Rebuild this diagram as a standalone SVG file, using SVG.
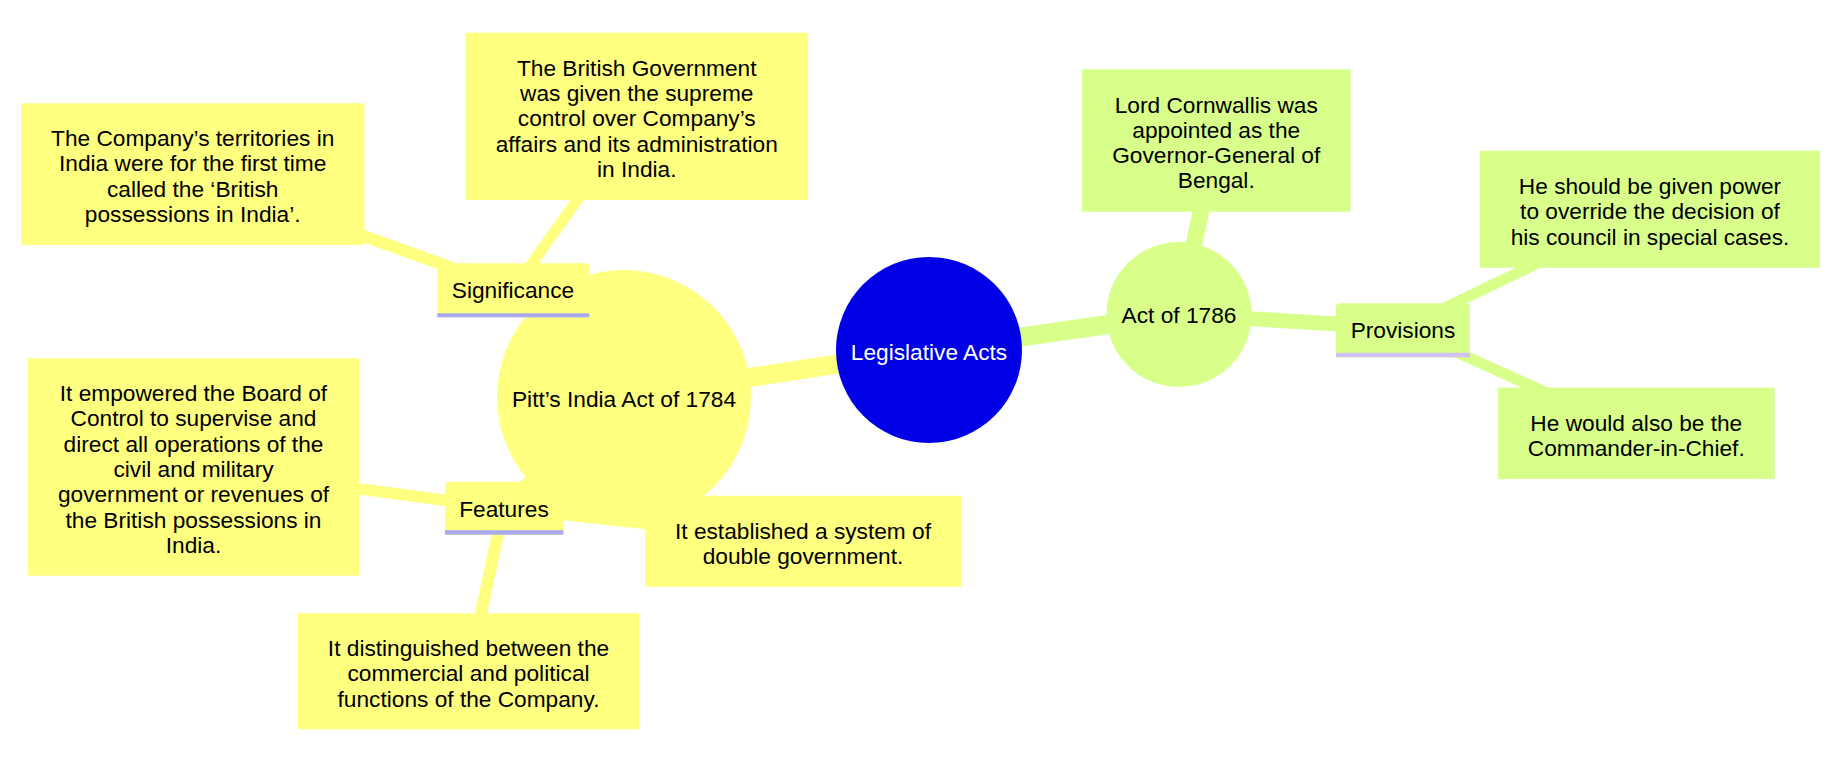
<svg xmlns="http://www.w3.org/2000/svg" width="1837" height="761" viewBox="0 0 1837 761">
<style>
  text { font-family: "Liberation Sans", Arial, sans-serif; font-size: 22.7px; fill: #000; text-anchor: middle; }
  .y { fill: #ffff80; }
  .g { fill: #d8ff8a; }
  .cy { stroke: #ffff80; fill: none; stroke-linecap: butt; }
  .cg { stroke: #d8ff8a; fill: none; stroke-linecap: butt; }
  .ulY { fill: #a9a9f0; }
  .ulG { fill: #d2c2f4; }
  .root text { fill: #ffffff; }
</style>
<rect width="1837" height="761" fill="#ffffff"/>
<g id="connectors">
  <line class="cy" x1="929" y1="350" x2="624" y2="397" stroke-width="19"/>
  <line class="cg" x1="929" y1="350" x2="1179" y2="314.5" stroke-width="19"/>
  <line class="cy" x1="624" y1="397" x2="513" y2="290" stroke-width="16"/>
  <line class="cy" x1="624" y1="397" x2="503.5" y2="508" stroke-width="16"/>
  <line class="cy" x1="513" y1="290" x2="192.7" y2="174" stroke-width="12"/>
  <line class="cy" x1="513" y1="290" x2="636.75" y2="116.5" stroke-width="11"/>
  <line class="cy" x1="503.5" y1="508" x2="193.5" y2="467" stroke-width="11.5"/>
  <line class="cy" x1="503.5" y1="508" x2="803" y2="541.2" stroke-width="11"/>
  <line class="cy" x1="503.5" y1="508" x2="468.5" y2="671.3" stroke-width="12"/>
  <line class="cg" x1="1179" y1="314.5" x2="1216" y2="140.5" stroke-width="16.5"/>
  <line class="cg" x1="1179" y1="314.5" x2="1403" y2="328" stroke-width="15"/>
  <line class="cg" x1="1403" y1="328" x2="1650" y2="209" stroke-width="11"/>
  <line class="cg" x1="1403" y1="328" x2="1636" y2="433" stroke-width="11"/>
</g>
<g id="root" class="root">
  <circle cx="929" cy="350" r="93" fill="#0000e6"/>
  <text x="929" y="360">Legislative Acts</text>
</g>
<g id="pitts">
  <circle class="y" cx="624" cy="397" r="127"/>
  <text x="624" y="407">Pitt’s India Act of 1784</text>
</g>
<g id="act1786">
  <circle class="g" cx="1179" cy="314.5" r="72.5"/>
  <text x="1179" y="323">Act of 1786</text>
</g>
<g id="significance">
  <rect class="y" x="437.3" y="263.3" width="152" height="54" rx="4"/>
  <rect class="ulY" x="437.3" y="313.3" width="152" height="4"/>
  <text x="513" y="298.3">Significance</text>
</g>
<g id="features">
  <rect class="y" x="445" y="481.7" width="118.3" height="53" rx="4"/>
  <rect class="ulY" x="445" y="530.2" width="118.3" height="4.5"/>
  <text x="504" y="516.5">Features</text>
</g>
<g id="provisions">
  <rect class="g" x="1336" y="303.3" width="134" height="54" rx="4"/>
  <rect class="ulG" x="1336" y="352.8" width="134" height="4.5"/>
  <text x="1403" y="338.3">Provisions</text>
</g>
<g id="company-territories">
  <rect class="y" x="21" y="103.3" width="343.5" height="141.7"/>
  <text x="192.7" y="146.05">The Company’s territories in</text>
  <text x="192.7" y="171.35">India were for the first time</text>
  <text x="192.7" y="196.65">called the ‘British</text>
  <text x="192.7" y="221.95">possessions in India’.</text>
</g>
<g id="british-government">
  <rect class="y" x="465.5" y="32.7" width="342.5" height="167.3"/>
  <text x="636.75" y="75.75">The British Government</text>
  <text x="636.75" y="101.05">was given the supreme</text>
  <text x="636.75" y="126.35">control over Company’s</text>
  <text x="636.75" y="151.65">affairs and its administration</text>
  <text x="636.75" y="176.95">in India.</text>
</g>
<g id="board-of-control">
  <rect class="y" x="28" y="358.3" width="331" height="217.4"/>
  <text x="193.5" y="401.1">It empowered the Board of</text>
  <text x="193.5" y="426.4">Control to supervise and</text>
  <text x="193.5" y="451.7">direct all operations of the</text>
  <text x="193.5" y="477">civil and military</text>
  <text x="193.5" y="502.3">government or revenues of</text>
  <text x="193.5" y="527.6">the British possessions in</text>
  <text x="193.5" y="552.9">India.</text>
</g>
<g id="double-government">
  <rect class="y" x="645" y="495.7" width="316" height="91"/>
  <text x="803" y="538.55">It established a system of</text>
  <text x="803" y="563.85">double government.</text>
</g>
<g id="distinguished">
  <rect class="y" x="298" y="613.3" width="341" height="116"/>
  <text x="468.5" y="656">It distinguished between the</text>
  <text x="468.5" y="681.3">commercial and political</text>
  <text x="468.5" y="706.6">functions of the Company.</text>
</g>
<g id="cornwallis">
  <rect class="g" x="1082" y="69.3" width="268.5" height="142.4"/>
  <text x="1216.25" y="112.55">Lord Cornwallis was</text>
  <text x="1216.25" y="137.85">appointed as the</text>
  <text x="1216.25" y="163.15">Governor-General of</text>
  <text x="1216.25" y="188.45">Bengal.</text>
</g>
<g id="override-power">
  <rect class="g" x="1480" y="150.7" width="340" height="117"/>
  <text x="1650" y="193.9">He should be given power</text>
  <text x="1650" y="219.2">to override the decision of</text>
  <text x="1650" y="244.5">his council in special cases.</text>
</g>
<g id="commander">
  <rect class="g" x="1498" y="387.7" width="276.6" height="91.3"/>
  <text x="1636.3" y="430.7">He would also be the</text>
  <text x="1636.3" y="456">Commander-in-Chief.</text>
</g>
</svg>
